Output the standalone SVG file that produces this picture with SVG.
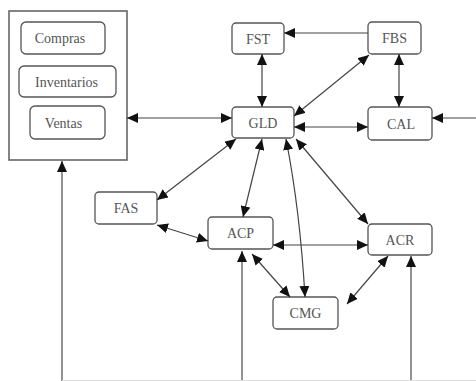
<svg xmlns="http://www.w3.org/2000/svg" width="476" height="381" viewBox="0 0 476 381">
  <style>
    .node { fill: #ffffff; stroke: #555555; stroke-width: 1.3; }
    .frame { fill: #ffffff; stroke: #666666; stroke-width: 1.6; }
    .label { font-family: 'Liberation Serif', 'DejaVu Serif', 'Times New Roman', serif; font-size: 14px; fill: #555555; text-anchor: middle; }
    .link { fill: none; stroke: #444444; stroke-width: 1.2; }
    .feed { fill: none; stroke: #777777; stroke-width: 1.6; }
  </style>
  <defs>
    <marker id="head" markerUnits="userSpaceOnUse" markerWidth="12" markerHeight="10" refX="11" refY="5" orient="auto-start-reverse">
      <path d="M0,0 L11,5 L0,10 z" fill="#111111"/>
    </marker>
  </defs>

  <!-- modules group (Compras / Inventarios / Ventas) -->
  <g id="modulos">
    <rect class="frame" x="9" y="11" width="118" height="149"/>
    <g id="compras">
      <rect class="node" x="21" y="22" width="84" height="32" rx="5"/>
      <text class="label" x="60" y="43">Compras</text>
    </g>
    <g id="inventarios">
      <rect class="node" x="19" y="66" width="97" height="31" rx="5"/>
      <text class="label" x="66.5" y="86.5">Inventarios</text>
    </g>
    <g id="ventas">
      <rect class="node" x="30" y="106" width="75" height="33" rx="5"/>
      <text class="label" x="63.5" y="127.5">Ventas</text>
    </g>
  </g>

  <g id="fst">
    <rect class="node" x="232" y="23" width="52" height="31" rx="4"/>
    <text class="label" x="258" y="43.5">FST</text>
  </g>
  <g id="fbs">
    <rect class="node" x="368" y="22" width="53" height="32" rx="4"/>
    <text class="label" x="394.5" y="43">FBS</text>
  </g>
  <g id="gld">
    <rect class="node" x="232" y="107" width="62" height="31" rx="4"/>
    <text class="label" x="263" y="128">GLD</text>
  </g>
  <g id="cal">
    <rect class="node" x="368" y="107" width="64" height="33" rx="4"/>
    <text class="label" x="401" y="129">CAL</text>
  </g>
  <g id="fas">
    <rect class="node" x="95" y="192" width="62" height="32" rx="4"/>
    <text class="label" x="126" y="213">FAS</text>
  </g>
  <g id="acp">
    <rect class="node" x="208" y="217" width="65" height="32" rx="4"/>
    <text class="label" x="240.5" y="238">ACP</text>
  </g>
  <g id="acr">
    <rect class="node" x="368" y="224" width="64" height="31" rx="4"/>
    <text class="label" x="400" y="245">ACR</text>
  </g>
  <g id="cmg">
    <rect class="node" x="273" y="297" width="65" height="32" rx="4"/>
    <text class="label" x="305.5" y="318">CMG</text>
  </g>

  <g id="connectors">
    <line class="link" x1="127" y1="118" x2="232" y2="118" marker-start="url(#head)" marker-end="url(#head)"/>
    <line class="link" x1="262" y1="54" x2="262" y2="107" marker-start="url(#head)" marker-end="url(#head)"/>
    <line class="link" x1="368" y1="33" x2="284" y2="33" marker-end="url(#head)"/>
    <line class="link" x1="294" y1="116" x2="369" y2="55" marker-start="url(#head)" marker-end="url(#head)"/>
    <line class="link" x1="399" y1="54" x2="399" y2="107" marker-start="url(#head)" marker-end="url(#head)"/>
    <line class="link" x1="294" y1="127" x2="368" y2="127" marker-start="url(#head)" marker-end="url(#head)"/>
    <line class="link" x1="476" y1="118" x2="432" y2="118" marker-end="url(#head)"/>
    <line class="link" x1="236" y1="139" x2="157" y2="200" marker-start="url(#head)" marker-end="url(#head)"/>
    <line class="link" x1="262" y1="139" x2="243" y2="217" marker-start="url(#head)" marker-end="url(#head)"/>
    <path class="link" d="M286,139 Q300,210 305,297" marker-start="url(#head)" marker-end="url(#head)"/>
    <line class="link" x1="296" y1="139" x2="368" y2="224" marker-start="url(#head)" marker-end="url(#head)"/>
    <line class="link" x1="157" y1="225" x2="208" y2="241" marker-start="url(#head)" marker-end="url(#head)"/>
    <line class="link" x1="273" y1="245" x2="368" y2="245" marker-start="url(#head)" marker-end="url(#head)"/>
    <line class="link" x1="252" y1="254" x2="290" y2="297" marker-start="url(#head)" marker-end="url(#head)"/>
    <line class="link" x1="388" y1="256" x2="347" y2="304" marker-start="url(#head)" marker-end="url(#head)"/>
    <!-- feedback lines rising from the bottom rail -->
    <line class="feed" x1="62" y1="381" x2="62" y2="161" marker-end="url(#head)"/>
    <line class="feed" x1="242" y1="381" x2="242" y2="251" marker-end="url(#head)"/>
    <line class="feed" x1="411" y1="381" x2="411" y2="256" marker-end="url(#head)"/>
    <line x1="62" y1="380.5" x2="476" y2="380.5" stroke="#dddddd" stroke-width="1"/>
  </g>
</svg>
